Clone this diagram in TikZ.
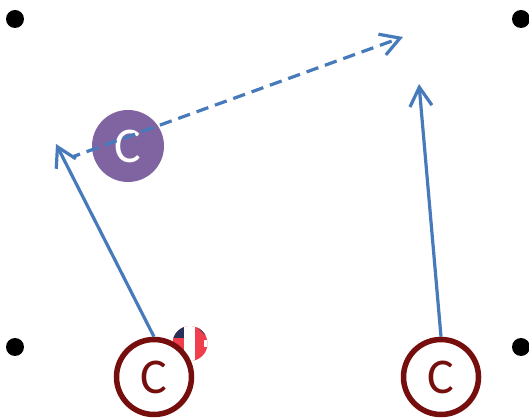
\documentclass[tikz,border=0pt]{standalone}
\usepackage{fontspec}
\setmainfont{Carlito}
\usetikzlibrary{arrows.meta}
\definecolor{arrowblue}{RGB}{70,122,186}
\definecolor{darkred}{RGB}{118,14,14}
\definecolor{plum}{RGB}{128,100,162}
\definecolor{flagnavy}{RGB}{38,48,88}
\definecolor{flagred}{RGB}{240,62,76}
\tikzset{
  x=1pt,y=-1pt,
  dotnode/.style={circle,fill=black,draw=none,minimum size=18pt,inner sep=0pt},
  redc/.style={circle,draw=darkred,fill=white,line width=5.5pt,minimum size=75pt,inner sep=0pt,text=darkred,font=\fontsize{50}{50}\selectfont},
  purplec/.style={circle,fill=plum,draw=none,minimum size=72pt,inner sep=0pt,text=white,font=\fontsize{50}{50}\selectfont},
  flow/.style={draw=arrowblue,line width=3.2pt,-{Straight Barb[length=19pt,width=22pt,line width=3.2pt]}},
  flowdash/.style={flow,dash pattern=on 12.5pt off 7pt,dash phase=4pt}
}
\begin{document}
\begin{tikzpicture}
\useasboundingbox (0,0) rectangle (529,419);
\node[dotnode] (d1) at (15,19) {};
\node[dotnode] (d2) at (521,19) {};
\node[dotnode] (d3) at (15,347) {};
\node[dotnode] (d4) at (521,347) {};
\begin{scope}
  \clip (190,343.5) circle (17.5);
  \fill[flagred] (171,325) rectangle (208,362);
  \fill[flagnavy] (171,325) rectangle (184,338);
  \fill[white] (184,325) rectangle (195,362);
  \fill[flagnavy] (195,325) -- (208,325) -- (208,338) -- cycle;
  \fill[white] (204,340) rectangle (208,347);
\end{scope}
\node[redc] (c1) at (154,377) {C};
\node[redc] (c2) at (441,377) {C};
\node[purplec] (p) at (128,146) {C};
\coordinate (a1) at (56,144);
\coordinate (a2) at (419,84);
\coordinate (a3) at (403,37);
\coordinate (a0) at (72,157);
\draw[flow] (c1.north) -- (a1);
\draw[flow] (c2.north) -- (a2);
\draw[flowdash] (a0) -- (a3);
\end{tikzpicture}
\end{document}
